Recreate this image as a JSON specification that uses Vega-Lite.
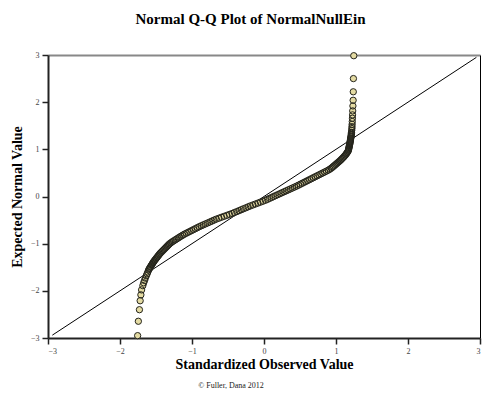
{
  "$schema": "https://vega.github.io/schema/vega-lite/v6.json",
  "width": 432,
  "height": 283,
  "autosize": "none",
  "padding": {"left": 48, "top": 55, "right": 14, "bottom": 56},
  "background": "white",
  "title": {"text": "© Fuller, Dana 2012", "orient": "bottom", "fontSize": 8, "font": "Liberation Serif", "fontWeight": "normal", "color": "#222", "offset": 11, "anchor": "middle", "dx": -33},
  "config": {"view": {"stroke": null}},
  "datasets": {
    "pts": [
      {"o": -1.755, "e": -2.95}, {"o": -1.745, "e": -2.645}, {"o": -1.73, "e": -2.40}, {"o": -1.72, "e": -2.21}, {"o": -1.71, "e": -2.085},
      {"o": -1.70, "e": -1.98}, {"o": -1.683, "e": -1.89}, {"o": -1.671, "e": -1.83}, {"o": -1.659, "e": -1.78}, {"o": -1.648, "e": -1.73},
      {"o": -1.635, "e": -1.68}, {"o": -1.624, "e": -1.64}, {"o": -1.613, "e": -1.60}, {"o": -1.603, "e": -1.56},
      {"o": -1.588, "e": -1.52}, {"o": -1.572, "e": -1.48}, {"o": -1.556, "e": -1.44}, {"o": -1.540, "e": -1.40},
      {"o": -1.522, "e": -1.36}, {"o": -1.501, "e": -1.32}, {"o": -1.481, "e": -1.28}, {"o": -1.460, "e": -1.24},
      {"o": -1.440, "e": -1.20}, {"o": -1.414, "e": -1.16}, {"o": -1.388, "e": -1.12}, {"o": -1.362, "e": -1.08},
      {"o": -1.336, "e": -1.04}, {"o": -1.310, "e": -1.00}, {"o": -1.274, "e": -0.96}, {"o": -1.233, "e": -0.92},
      {"o": -1.192, "e": -0.88}, {"o": -1.151, "e": -0.84}, {"o": -1.107, "e": -0.80}, {"o": -1.055, "e": -0.76},
      {"o": -1.003, "e": -0.72}, {"o": -0.951, "e": -0.68}, {"o": -0.899, "e": -0.64}, {"o": -0.841, "e": -0.60},
      {"o": -0.782, "e": -0.56}, {"o": -0.722, "e": -0.52}, {"o": -0.663, "e": -0.48}, {"o": -0.591, "e": -0.44},
      {"o": -0.517, "e": -0.40}, {"o": -0.443, "e": -0.36}, {"o": -0.378, "e": -0.32}, {"o": -0.316, "e": -0.28},
      {"o": -0.253, "e": -0.24}, {"o": -0.190, "e": -0.20}, {"o": -0.120, "e": -0.16}, {"o": -0.050, "e": -0.12},
      {"o": 0.020, "e": -0.08}, {"o": 0.077, "e": -0.04}, {"o": 0.134, "e": 0.00}, {"o": 0.192, "e": 0.04},
      {"o": 0.249, "e": 0.08}, {"o": 0.308, "e": 0.12}, {"o": 0.366, "e": 0.16}, {"o": 0.424, "e": 0.20},
      {"o": 0.479, "e": 0.24}, {"o": 0.531, "e": 0.28}, {"o": 0.583, "e": 0.32}, {"o": 0.635, "e": 0.36},
      {"o": 0.687, "e": 0.40}, {"o": 0.739, "e": 0.44}, {"o": 0.791, "e": 0.48}, {"o": 0.843, "e": 0.52},
      {"o": 0.895, "e": 0.56}, {"o": 0.934, "e": 0.60}, {"o": 0.965, "e": 0.64}, {"o": 0.996, "e": 0.68},
      {"o": 1.026, "e": 0.72}, {"o": 1.057, "e": 0.76}, {"o": 1.083, "e": 0.80}, {"o": 1.109, "e": 0.84},
      {"o": 1.131, "e": 0.88}, {"o": 1.150, "e": 0.92}, {"o": 1.168, "e": 0.96}, {"o": 1.175, "e": 1.00},
      {"o": 1.181, "e": 1.04}, {"o": 1.186, "e": 1.08}, {"o": 1.192, "e": 1.12}, {"o": 1.196, "e": 1.16},
      {"o": 1.201, "e": 1.20}, {"o": 1.205, "e": 1.24}, {"o": 1.210, "e": 1.28}, {"o": 1.213, "e": 1.32},
      {"o": 1.215, "e": 1.36}, {"o": 1.218, "e": 1.40}, {"o": 1.221, "e": 1.44}, {"o": 1.222, "e": 1.48},
      {"o": 1.224, "e": 1.53}, {"o": 1.226, "e": 1.59}, {"o": 1.228, "e": 1.66}, {"o": 1.230, "e": 1.73},
      {"o": 1.232, "e": 1.815}, {"o": 1.235, "e": 1.92}, {"o": 1.238, "e": 2.04}, {"o": 1.240, "e": 2.22},
      {"o": 1.242, "e": 2.50}, {"o": 1.247, "e": 2.985},
      {"o": -1.596, "e": -1.54}, {"o": -1.580, "e": -1.50}, {"o": -1.564, "e": -1.46}, {"o": -1.548, "e": -1.42},
      {"o": -1.531, "e": -1.38}, {"o": -1.512, "e": -1.34}, {"o": -1.491, "e": -1.30}, {"o": -1.471, "e": -1.26},
      {"o": -1.450, "e": -1.22}, {"o": -1.427, "e": -1.18}, {"o": -1.401, "e": -1.14}, {"o": -1.375, "e": -1.10},
      {"o": -1.349, "e": -1.06}, {"o": -1.323, "e": -1.02}, {"o": -1.292, "e": -0.98}, {"o": -1.254, "e": -0.94},
      {"o": -1.213, "e": -0.90}, {"o": -1.172, "e": -0.86}, {"o": -1.129, "e": -0.82}, {"o": -1.081, "e": -0.78},
      {"o": -1.029, "e": -0.74}, {"o": -0.977, "e": -0.70}, {"o": -0.925, "e": -0.66}, {"o": -0.870, "e": -0.62},
      {"o": -0.812, "e": -0.58}, {"o": -0.752, "e": -0.54}, {"o": -0.693, "e": -0.50}, {"o": -0.627, "e": -0.46},
      {"o": -0.554, "e": -0.42}, {"o": -0.480, "e": -0.38}, {"o": -0.411, "e": -0.34}, {"o": -0.347, "e": -0.30},
      {"o": -0.285, "e": -0.26}, {"o": -0.222, "e": -0.22}, {"o": -0.155, "e": -0.18}, {"o": -0.085, "e": -0.14},
      {"o": -0.015, "e": -0.10}, {"o": 0.049, "e": -0.06}, {"o": 0.106, "e": -0.02}, {"o": 0.163, "e": 0.02},
      {"o": 0.221, "e": 0.06}, {"o": 0.279, "e": 0.10}, {"o": 0.337, "e": 0.14}, {"o": 0.395, "e": 0.18},
      {"o": 0.452, "e": 0.22}, {"o": 0.505, "e": 0.26}, {"o": 0.557, "e": 0.30}, {"o": 0.609, "e": 0.34},
      {"o": 0.661, "e": 0.38}, {"o": 0.713, "e": 0.42}, {"o": 0.765, "e": 0.46}, {"o": 0.817, "e": 0.50},
      {"o": 0.869, "e": 0.54}, {"o": 0.915, "e": 0.58}, {"o": 0.950, "e": 0.62}, {"o": 0.981, "e": 0.66},
      {"o": 1.011, "e": 0.70}, {"o": 1.042, "e": 0.74}, {"o": 1.070, "e": 0.78}, {"o": 1.096, "e": 0.82},
      {"o": 1.120, "e": 0.86}, {"o": 1.141, "e": 0.90}, {"o": 1.159, "e": 0.94}, {"o": 1.172, "e": 0.98},
      {"o": 1.178, "e": 1.02}, {"o": 1.184, "e": 1.06}, {"o": 1.189, "e": 1.10}, {"o": 1.194, "e": 1.14},
      {"o": 1.199, "e": 1.18}, {"o": 1.203, "e": 1.22}, {"o": 1.208, "e": 1.26}, {"o": 1.212, "e": 1.30},
      {"o": 1.214, "e": 1.34}
    ],
    "diag": [{"o": -2.94, "e": -2.94}, {"o": 2.95, "e": 2.95}]
  },
  "resolve": {"axis": {"x": "independent", "y": "independent"}},
  "layer": [
    {
      "data": {"name": "diag"},
      "mark": {"type": "line", "color": "#000", "strokeWidth": 1},
      "encoding": {
        "x": {"field": "o", "type": "quantitative", "scale": {"domain": [-3, 3], "nice": false, "zero": false},
          "axis": {"orient": "top", "title": "Normal Q-Q Plot of NormalNullEin", "titleFont": "Liberation Serif", "titleFontSize": 15, "titleFontWeight": "bold", "titleColor": "#000", "titlePadding": 29, "titleX": 202, "titleAlign": "center", "labels": false, "ticks": false, "grid": false, "domainColor": "#888", "domainWidth": 2}},
        "y": {"field": "e", "type": "quantitative", "scale": {"domain": [-3, 3], "nice": false, "zero": false},
          "axis": {"orient": "right", "title": null, "labels": false, "ticks": false, "grid": false, "domainColor": "#000", "domainWidth": 1}}
      }
    },
    {
      "data": {"name": "pts"},
      "mark": {"type": "point", "shape": "circle", "filled": true, "fill": "#e4dba3", "strokeWidth": 0, "size": 40, "opacity": 1},
      "encoding": {
        "x": {"field": "o", "type": "quantitative", "scale": {"domain": [-3, 3], "nice": false, "zero": false},
          "axis": {"orient": "bottom", "title": "Standardized Observed Value", "values": [-3, -2, -1, 0, 1, 2, 3], "grid": false,
            "labelFont": "Liberation Serif", "labelFontSize": 8, "labelColor": "#444", "labelPadding": 3,
            "tickColor": "#222", "tickSize": 6, "tickWidth": 1.5, "domainColor": "#222", "domainWidth": 2,
            "titleFont": "Liberation Serif", "titleFontSize": 14, "titleFontWeight": "bold", "titleColor": "#000", "titlePadding": 2}},
        "y": {"field": "e", "type": "quantitative", "scale": {"domain": [-3, 3], "nice": false, "zero": false},
          "axis": {"orient": "left", "title": "Expected Normal Value", "values": [-3, -2, -1, 0, 1, 2, 3], "grid": false,
            "labelFont": "Liberation Serif", "labelFontSize": 8, "labelColor": "#444", "labelPadding": 3,
            "tickColor": "#222", "tickSize": 6, "tickWidth": 1.5, "domainColor": "#222", "domainWidth": 2,
            "titleFont": "Liberation Serif", "titleFontSize": 14, "titleFontWeight": "bold", "titleColor": "#000", "titlePadding": 6}}
      }
    },
    {
      "data": {"name": "pts"},
      "mark": {"type": "point", "shape": "circle", "filled": false, "stroke": "#24241c", "strokeWidth": 1, "size": 40, "opacity": 1},
      "encoding": {
        "x": {"field": "o", "type": "quantitative", "scale": {"domain": [-3, 3], "nice": false, "zero": false}, "axis": null},
        "y": {"field": "e", "type": "quantitative", "scale": {"domain": [-3, 3], "nice": false, "zero": false}, "axis": null}
      }
    }
  ]
}
